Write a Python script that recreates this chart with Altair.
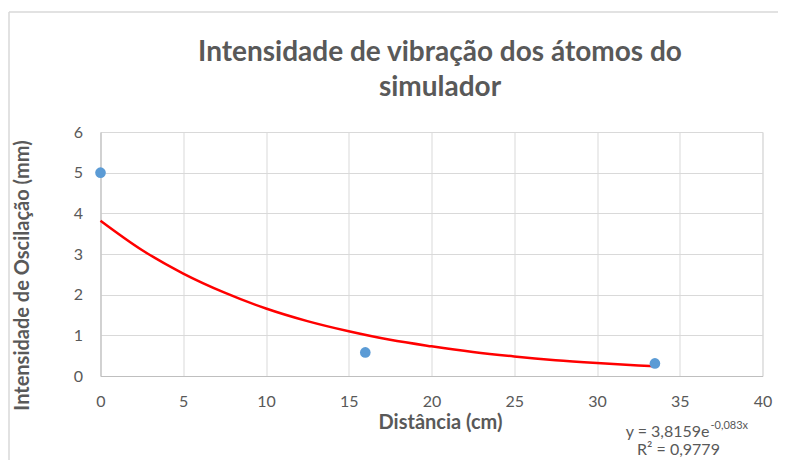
import altair as alt
import pandas as pd

# Measured data points
distancia = [0, 16, 33.5]
intensidade = [5, 0.58, 0.31]

# Exponential trend line
trend_x = [0, 2.5, 5, 7.5, 10, 12.5, 15, 17.5, 20, 22.5, 25, 27.5, 30, 32.5, 33.5]
trend_y = [3.82, 3.10, 2.52, 2.05, 1.66, 1.35, 1.10, 0.89, 0.73, 0.59, 0.48, 0.39, 0.32, 0.26, 0.24]

x_ticks = [0, 5, 10, 15, 20, 25, 30, 35, 40]
y_ticks = [0, 1, 2, 3, 4, 5, 6]

title_lines = ["Intensidade de vibração dos átomos do", "simulador"]
eq_main = "y = 3,8159e"
eq_sup = "-0,083x"
eq_r2 = "R² = 0,9779"

GRAY = "#595959"
FONT = "Lato"

pts = pd.DataFrame({"x": distancia, "y": intensidade})
trend = pd.DataFrame({"x": trend_x, "y": trend_y})

xenc = alt.X(
    "x:Q",
    scale=alt.Scale(domain=[0, 40], nice=False, zero=False),
    axis=alt.Axis(
        values=x_ticks, title="Distância (cm)", grid=True, gridColor="#D9D9D9",
        gridWidth=1, domainColor="#BFBFBF", domainWidth=1, ticks=False,
        labelPadding=17, labelFontSize=16, labelColor=GRAY, labelFont=FONT,
        titleFontSize=20, titleFontWeight="bold", titleColor=GRAY, titleFont=FONT,
        titleX=339.5, titleY=46, titleBaseline="middle", titleAlign="center",
        labelFlush=False,
    ),
)
yenc = alt.Y(
    "y:Q",
    scale=alt.Scale(domain=[0, 6], nice=False),
    axis=alt.Axis(
        values=y_ticks, title="Intensidade de Oscilação (mm)", grid=True,
        gridColor="#D9D9D9", gridWidth=1, domainColor="#BFBFBF", domainWidth=1,
        ticks=False, labelPadding=18, labelFontSize=16, labelColor=GRAY,
        labelFont=FONT, titleFontSize=20, titleFontWeight="bold", titleColor=GRAY,
        titleFont=FONT, titleX=-78.5, titleY=143, titleAngle=270,
        titleAlign="center", titleBaseline="middle", labelFlush=False,
    ),
)

line = alt.Chart(trend).mark_line(color="#FF0000", strokeWidth=2.5, interpolate="monotone").encode(x=xenc, y=yenc)
dots = alt.Chart(pts).mark_circle(size=113, color="#5B9BD5", opacity=1).encode(x="x:Q", y="y:Q")

one = pd.DataFrame({"a": [0]})

border_v = alt.Chart(one).mark_rule(color="#D9D9D9", strokeWidth=1.5).encode(
    x=alt.value(-91.5), y=alt.value(-120), y2=alt.value(400))
border_h = alt.Chart(one).mark_rule(color="#D9D9D9", strokeWidth=1.5).encode(
    x=alt.value(-91.5), x2=alt.value(800), y=alt.value(-120))

t1 = alt.Chart(pd.DataFrame({"t": [title_lines[0]]})).mark_text(
    font=FONT, fontSize=28, fontWeight="bold", color=GRAY, align="center", baseline="alphabetic"
).encode(text="t:N", x=alt.value(339.5), y=alt.value(-71))
t2 = alt.Chart(pd.DataFrame({"t": [title_lines[1]]})).mark_text(
    font=FONT, fontSize=28, fontWeight="bold", color=GRAY, align="center", baseline="alphabetic"
).encode(text="t:N", x=alt.value(339.5), y=alt.value(-36))

e1 = alt.Chart(pd.DataFrame({"t": [eq_main]})).mark_text(
    font=FONT, fontSize=16, color=GRAY, align="right", baseline="alphabetic"
).encode(text="t:N", x=alt.value(609), y=alt.value(305))
e2 = alt.Chart(pd.DataFrame({"t": [eq_sup]})).mark_text(
    font=FONT, fontSize=11, color=GRAY, align="left", baseline="alphabetic"
).encode(text="t:N", x=alt.value(610), y=alt.value(297))
e3 = alt.Chart(pd.DataFrame({"t": [eq_r2]})).mark_text(
    font=FONT, fontSize=16, color=GRAY, align="center", baseline="alphabetic"
).encode(text="t:N", x=alt.value(578), y=alt.value(323))

chart = alt.layer(line, dots, border_v, border_h, t1, t2, e1, e2, e3).properties(
    width=662, height=244,
    autosize=alt.AutoSizeParams(type="none"),
    padding={"left": 92.5, "top": 124, "right": 15.5, "bottom": 84},
).configure_view(stroke="transparent").configure(background="white")

chart.save("out.html", embed_options={"renderer": "svg", "actions": False})
